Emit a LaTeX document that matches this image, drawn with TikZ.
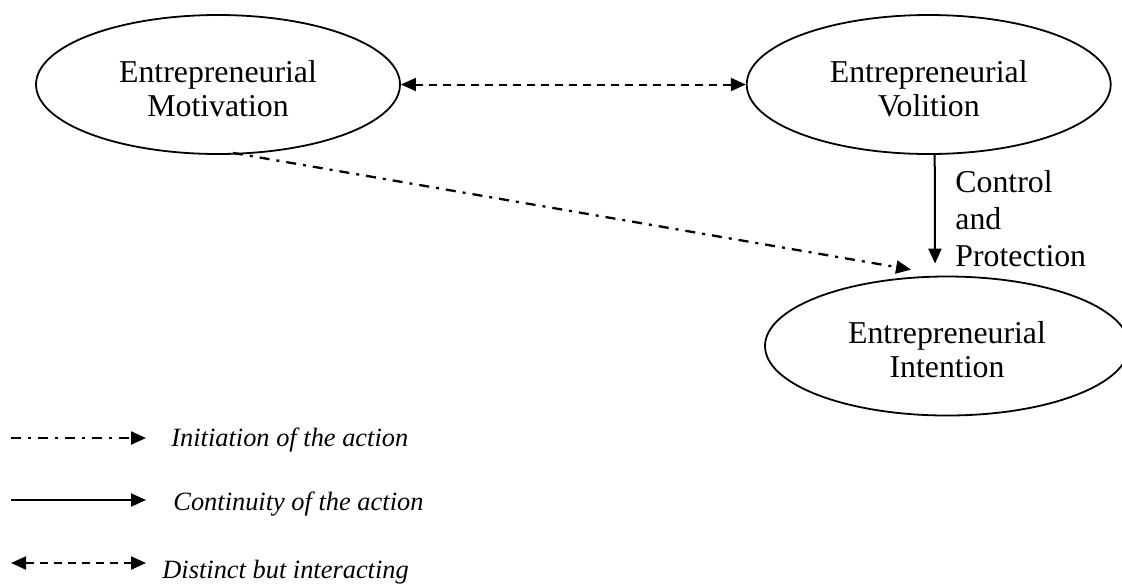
\documentclass[tikz,border=0pt]{standalone}
\usepackage{fontspec}
\setmainfont{Liberation Serif}
\usetikzlibrary{shapes.geometric,arrows.meta,calc}
\begin{document}
\begin{tikzpicture}[x=0.5pt,y=-0.5pt,
  concept/.style={ellipse,draw,line width=0.9pt,minimum width=182pt,minimum height=69.5pt,
    inner sep=0pt},
  conceptlabel/.style={align=center,inner sep=0pt,font=\fontsize{15.9}{17}\selectfont},
  tip/.style={-{Triangle[length=7.5pt,width=6.5pt]}},
  bothtips/.style={{Triangle[length=7.5pt,width=6.5pt]}-{Triangle[length=7.5pt,width=6.5pt]}},
  dashdot/.style={line width=1.15pt,dash pattern=on 5pt off 3.5pt on 1.5pt off 3.5pt},
  dashline/.style={line width=1pt,dash pattern=on 4pt off 3pt},
  solidline/.style={line width=1pt},
  legendtext/.style={anchor=west,inner sep=0pt,font=\fontsize{13.2}{15}\selectfont\itshape}]
\useasboundingbox (0,0) rectangle (1122,585);
\clip (0,0) rectangle (1122,585);

% the three constructs
\node[concept] (mot) at (218,84.5) {};
\node[concept] (vol) at (928.7,84.5) {};
\node[concept] (int) at (947,346) {};
\node[conceptlabel] (motl) at ($(mot)+(0,4)$) {Entrepreneurial\\Motivation};
\node[conceptlabel] (voll) at ($(vol)+(0,4)$) {Entrepreneurial\\Volition};
\node[conceptlabel] (intl) at ($(int)+(0,4)$) {Entrepreneurial\\Intention};

% motivation and volition interact
\draw[dashline,bothtips] (mot.east) -- (vol.west);

% volition keeps the action going
\coordinate (ctop) at ($(vol.south)+(6,0)$);
\coordinate (cbot) at ($(int.north)+(-12,-12)$);
\draw[solidline,tip] (ctop) -- (cbot);
\node[anchor=north west,inner sep=0pt,align=left,font=\fontsize{15.9}{18.5}\selectfont] (ctl) at (955,170)
  {Control\\and\\Protection};

% motivation starts the action
\coordinate (istart) at ($(mot.south)+(15,-2)$);
\coordinate (iend) at ($(int.north)+(-36,-6)$);
\draw[dashdot,tip] (istart) -- (iend);

% key
\coordinate (k1a) at (11,438);  \coordinate (k1b) at (146,438);
\coordinate (k2a) at (11,500);  \coordinate (k2b) at (146,500);
\coordinate (k3a) at (11,563);  \coordinate (k3b) at (146,563);
\draw[dashdot,tip] (k1a) -- (k1b);
\draw[solidline,tip] (k2a) -- (k2b);
\draw[dashline,bothtips] (k3a) -- (k3b);
\node[legendtext] (k1t) at (171,440) {Initiation of the action};
\node[legendtext] (k2t) at (173,504) {Continuity of the action};
\node[legendtext] (k3t) at (162,572) {Distinct but interacting};
\end{tikzpicture}
\end{document}
